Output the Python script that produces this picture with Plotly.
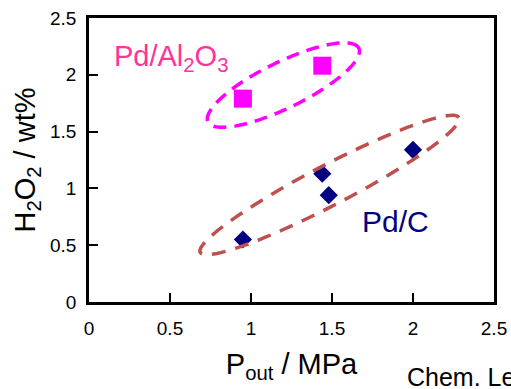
import numpy as np
import plotly.graph_objects as go

# Data
al_x = [0.95, 1.44]
al_y = [1.79, 2.08]
c_x = [0.95, 1.44, 1.48, 2.00]
c_y = [0.55, 1.13, 0.94, 1.34]
x_ticks = [0, 0.5, 1, 1.5, 2, 2.5]
y_ticks = [0, 0.5, 1, 1.5, 2, 2.5]

W, H = 511, 389
L, R, T, B = 88.5, 17, 18, 87
pw, ph = W - L - R, H - T - B
sx = pw / 2.5
sy = ph / 2.5


def ellipse_path(cx, cy, a_px, b_px, ang_deg, n=120):
    th = np.radians(ang_deg)
    t = np.linspace(0, 2 * np.pi, n)
    dx = a_px * np.cos(t) * np.cos(th) - b_px * np.sin(t) * np.sin(th)
    dy = a_px * np.cos(t) * np.sin(th) + b_px * np.sin(t) * np.cos(th)
    xs = cx + dx / sx
    ys = cy + dy / sy
    p = "M " + " L ".join(f"{x:.4f},{y:.4f}" for x, y in zip(xs, ys)) + " Z"
    return p


fig = go.Figure()
fig.add_trace(go.Scatter(x=al_x, y=al_y, mode="markers",
                         marker=dict(symbol="square", size=18, color="#FF00FF"),
                         showlegend=False))
fig.add_trace(go.Scatter(x=c_x, y=c_y, mode="markers",
                         marker=dict(symbol="diamond", size=14, color="#000080"),
                         showlegend=False))

fig.add_shape(type="path", path=ellipse_path(1.20, 1.91, 84, 23, 26),
              line=dict(color="#FF00FF", width=3.5, dash="13px,8px"), layer="above")
fig.add_shape(type="path", path=ellipse_path(1.485, 1.03, 146, 20, 27.5),
              line=dict(color="#C0504D", width=3.5, dash="14px,10px"), layer="above")

fig.add_annotation(x=0.14, y=2.15, xref="x", yref="y", text="Pd/Al<sub>2</sub>O<sub>3</sub>",
                   showarrow=False, xanchor="left", yanchor="middle",
                   font=dict(family="Arial, Liberation Sans", size=29, color="#FF3399"))
fig.add_annotation(x=1.67, y=0.71, xref="x", yref="y", text="Pd/C",
                   showarrow=False, xanchor="left", yanchor="middle",
                   font=dict(family="Arial, Liberation Sans", size=30, color="#000080"))
fig.add_annotation(x=(405 - L) / pw, y=-(361 - (T + ph)) / ph, xref="paper", yref="paper",
                   text="Chem. Lett.", showarrow=False, xanchor="left", yanchor="top",
                   font=dict(family="Arial, Liberation Sans", size=25, color="black"))

axis_common = dict(showline=True, linewidth=2.5, linecolor="black", mirror=True,
                   ticks="inside", ticklen=9, tickwidth=2, tickcolor="black",
                   showgrid=False, zeroline=False,
                   tickfont=dict(family="Arial, Liberation Sans", size=19, color="black"))

fig.update_xaxes(range=[0, 2.5], tickvals=x_ticks, ticktext=[f"{v:g}" for v in x_ticks],
                 title=dict(text="P<sub>out</sub> / MPa", standoff=17,
                            font=dict(family="Arial, Liberation Sans", size=29, color="black")),
                 ticklabelstandoff=7, **axis_common)
fig.update_yaxes(range=[0, 2.5], tickvals=y_ticks, ticktext=[f"{v:g}" for v in y_ticks],
                 title=dict(text="H<sub>2</sub>O<sub>2</sub> / wt%", standoff=6,
                            font=dict(family="Arial, Liberation Sans", size=29, color="black")),
                 ticklabelstandoff=6, **axis_common)

fig.update_layout(width=W, height=H, margin=dict(l=L, r=R, t=T, b=B, autoexpand=False),
                  plot_bgcolor="white", paper_bgcolor="white")

fig.write_html("out.html", config={"displayModeBar": False},
               post_script="document.body.style.margin='0';document.body.style.overflow='hidden';")
